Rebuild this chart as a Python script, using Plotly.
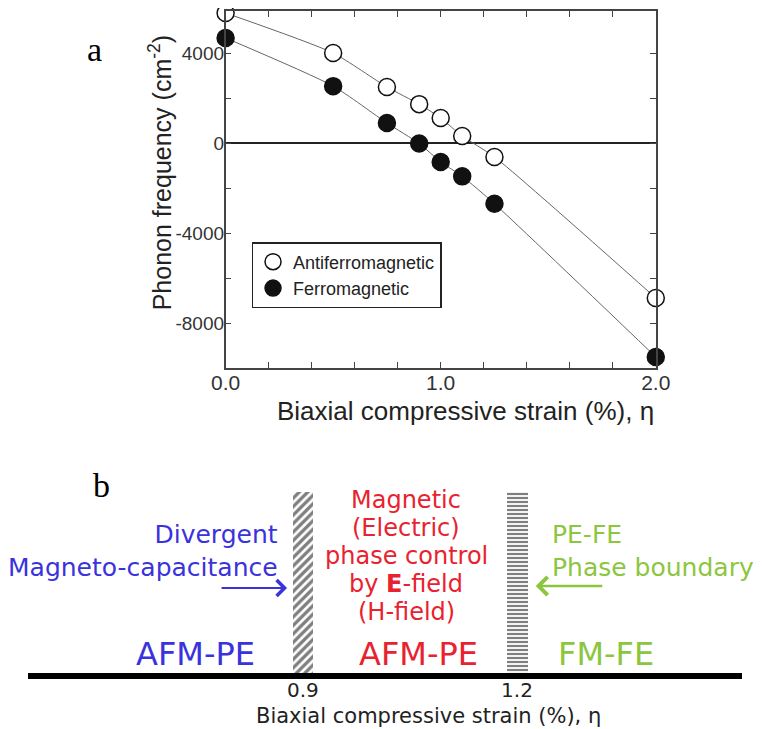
import plotly.graph_objects as go

# page body has an 8px margin, so the figure is 8px smaller and coordinates are shifted
OFF = 8
W, H = 762 - OFF, 729 - OFF

# ---------------- data ----------------
strain = [0.0, 0.5, 0.75, 0.9, 1.0, 1.1, 1.25, 2.0]
afm_freq = [5780, 4000, 2490, 1730, 1110, 310, -620, -6890]
fm_freq = [4670, 2530, 890, -20, -840, -1480, -2700, -9510]

x_ticks = [0.0, 0.2, 0.4, 0.6, 0.8, 1.0, 1.2, 1.4, 1.6, 1.8, 2.0]
x_ticktext = ["0.0", "", "", "", "", "1.0", "", "", "", "", "2.0"]
y_ticks = [-8000, -6000, -4000, -2000, 0, 2000, 4000]
y_ticktext = ["-8000", "", "-4000", "", "0", "", "4000"]

boundaries = [0.9, 1.2]
boundary_labels = ["0.9", "1.2"]
boundary_patterns = ["/", "-"]
boundary_widths = [0.028, 0.03]
boundary_heights = [1, 1]

phase_names = ["AFM-PE", "AFM-PE", "FM-FE"]
phase_x = [0.749, 1.062, 1.325]
phase_colors = ["#3a32dc", "#e8222e", "#8cc63f"]

red_lines = ["Magnetic", "(Electric)", "phase control", "by <b>E</b>-field", "(H-field)"]


def px(x):
    return (x - OFF) / W


def py(y):
    return 1 - (y - OFF) / H


SANS = "Liberation Sans, Arial, sans-serif"
DEJ = "DejaVu Sans, sans-serif"
SERIF = "Liberation Serif, Times New Roman, serif"

fig = go.Figure()

# ---------- panel a ----------
for yvals, fill, name in [(afm_freq, "white", "Antiferromagnetic"),
                          (fm_freq, "#111111", "Ferromagnetic")]:
    fig.add_trace(go.Scatter(
        x=strain, y=yvals, mode="lines", showlegend=False,
        line=dict(color="#666666", width=1, shape="spline", smoothing=0.6),
        xaxis="x", yaxis="y", hoverinfo="skip",
    ))
    fig.add_trace(go.Scatter(
        x=strain, y=yvals, mode="markers", name=name,
        marker=dict(symbol="circle", size=17, color=fill,
                    line=dict(color="#111111", width=1.5)),
        cliponaxis=False, xaxis="x", yaxis="y",
    ))

# ---------- panel b ----------
fig.add_trace(go.Bar(
    x=boundaries, y=boundary_heights, width=boundary_widths,
    marker=dict(color="white", line=dict(width=0),
                pattern=dict(shape=boundary_patterns, fgcolor="#000000", bgcolor="white",
                             size=[6, 4], solidity=0.55)),
    showlegend=False, xaxis="x2", yaxis="y2", hoverinfo="skip",
))

fig.update_layout(
    width=W, height=H,
    margin=dict(l=0, r=0, t=0, b=0),
    paper_bgcolor="white", plot_bgcolor="white",
    showlegend=True,
    legend=dict(
        x=px(246), y=py(242), xanchor="left", yanchor="top",
        bordercolor="#222222", borderwidth=1.5, bgcolor="white",
        font=dict(family=SANS, size=18, color="#222222"),
        itemsizing="trace", itemwidth=30,
        entrywidth=160, entrywidthmode="pixels",
    ),
    xaxis=dict(
        domain=[px(219), px(667)], range=[0, 2], anchor="y",
        tickvals=x_ticks, ticktext=x_ticktext, ticks="inside", ticklen=6,
        tickcolor="#444444", showline=True, linecolor="#444444", linewidth=1.5,
        mirror="allticks", showgrid=False, zeroline=False,
        tickfont=dict(family=SANS, size=21, color="#333333"),
        ticklabelstandoff=-5,
    ),
    yaxis=dict(
        domain=[py(368), py(11)], range=[-10000, 5870], anchor="x",
        tickvals=y_ticks, ticktext=y_ticktext, ticks="inside", ticklen=6,
        tickcolor="#444444", showline=True, linecolor="#444444", linewidth=1.5,
        mirror="allticks", showgrid=False,
        zeroline=True, zerolinecolor="#222222", zerolinewidth=1.5,
        tickfont=dict(family=SANS, size=19, color="#333333"),
        ticklabelstandoff=-4,
    ),
    xaxis2=dict(
        domain=[px(13), px(757)], range=[0.5146, 1.5155], anchor="y2",
        tickvals=boundaries, ticktext=boundary_labels, ticks="",
        showline=True, linecolor="black", linewidth=6,
        showgrid=False, zeroline=False,
        tickfont=dict(family=DEJ, size=20, color="#222222"),
        ticklabelstandoff=-6,
    ),
    yaxis2=dict(
        domain=[py(673), py(492)], range=[0, 1], anchor="x2",
        visible=False, showgrid=False, zeroline=False,
    ),
    bargap=0,
)

C = dict(xanchor="center", yanchor="middle", showarrow=False)
ann = []
# panel letters
ann.append(dict(text="a", x=px(82), y=py(50), xref="paper", yref="paper",
                font=dict(family=SERIF, size=34, color="black"), **C))
ann.append(dict(text="b", x=px(90), y=py(485), xref="paper", yref="paper",
                font=dict(family=SERIF, size=34, color="black"), **C))
# panel a axis titles
ann.append(dict(text="Phonon frequency (cm<sup>-2</sup>)", x=px(151), y=py(173),
                xref="paper", yref="paper", textangle=-90,
                font=dict(family=SANS, size=25, color="#222222"), **C))
ann.append(dict(text="Biaxial compressive strain (%), η", x=px(469), y=py(411),
                xref="paper", yref="paper",
                font=dict(family=SANS, size=26, color="#222222"), **C))
# panel b phase names
for name, xv, col in zip(phase_names, phase_x, phase_colors):
    ann.append(dict(text=name, x=xv, y=py(654), xref="x2", yref="paper",
                    font=dict(family=DEJ, size=32, color=col), **C))
# panel b explanatory text
ann.append(dict(text="Divergent<br>Magneto-capacitance", x=px(276), y=py(551),
                xref="paper", yref="paper", xanchor="right", yanchor="middle",
                align="right", showarrow=False,
                font=dict(family=DEJ, size=25, color="#3a32dc")))
for i, line in enumerate(red_lines):
    ann.append(dict(text=line, x=px(407), y=py(500 + 28 * i),
                    xref="paper", yref="paper",
                    font=dict(family=DEJ, size=24, color="#e8222e"), **C))
ann.append(dict(text="PE-FE<br>Phase boundary", x=px(557), y=py(551),
                xref="paper", yref="paper", xanchor="left", yanchor="middle",
                align="left", showarrow=False,
                font=dict(family=DEJ, size=25, color="#8cc63f")))
# arrows (tail offsets in pixels)
ann.append(dict(text="", x=px(283), y=py(588), ax=-67, ay=0,
                xref="paper", yref="paper", axref="pixel", ayref="pixel",
                showarrow=True, arrowhead=4, arrowsize=1.4, arrowwidth=2.2,
                arrowcolor="#3a32dc"))
ann.append(dict(text="", x=px(542), y=py(586), ax=68, ay=0,
                xref="paper", yref="paper", axref="pixel", ayref="pixel",
                showarrow=True, arrowhead=4, arrowsize=1.4, arrowwidth=2.5,
                arrowcolor="#8cc63f"))
# panel b axis title
ann.append(dict(text="Biaxial compressive strain (%), η", x=px(430), y=py(716),
                xref="paper", yref="paper",
                font=dict(family=DEJ, size=21, color="#222222"), **C))

fig.update_layout(annotations=ann)

fig.write_html("out.html")
